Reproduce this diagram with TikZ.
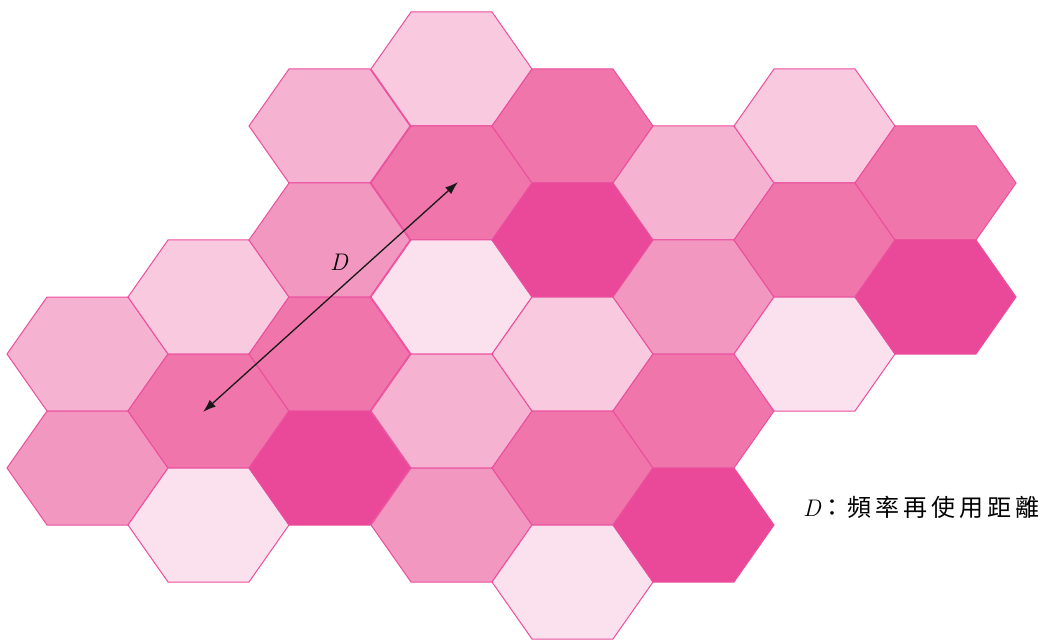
\documentclass[tikz,border=0pt]{standalone}
\usepackage{fontspec}
\newfontfamily\cjk{Noto Sans CJK TC}
\usetikzlibrary{arrows.meta}
\definecolor{cA}{HTML}{FBE1ED}
\definecolor{cB}{HTML}{F8C9DF}
\definecolor{cC}{HTML}{F5B3D1}
\definecolor{cD}{HTML}{F298C0}
\definecolor{cE}{HTML}{EF75AA}
\definecolor{cF}{HTML}{EA4898}
\definecolor{edge}{HTML}{EB4F9E}
\tikzset{
  hexa/.pic={\path[pic actions] (-80.5,0) -- (-40.5,-57) -- (40.5,-57) -- (80.5,0) -- (40.5,57) -- (-40.5,57) -- cycle;},
  cell/.style={draw=edge, line width=1pt, line join=miter},
  dist/.style={{Latex[length=13pt,width=9pt]}-{Latex[length=13pt,width=9pt]}, line width=1.3pt, black!90},
  lab/.style={inner sep=0pt, font=\fontsize{24}{24}\selectfont}
}
\begin{document}
\begin{tikzpicture}[x=1pt,y=-1pt]
\useasboundingbox (0,0) rectangle (1049,644);
% column k=-3
\pic[cell,fill=cC] at (87.5,354) {hexa};
\pic[cell,fill=cD] at (87.5,468) {hexa};
% column k=-2
\pic[cell,fill=cB] at (208.5,297) {hexa};
\pic[cell,fill=cE] at (208.5,411) {hexa};
\pic[cell,fill=cA] at (208.5,525) {hexa};
% column k=-1
\pic[cell,fill=cC] at (329.5,126) {hexa};
\pic[cell,fill=cD] at (329.5,240) {hexa};
\pic[cell,fill=cE] at (329.5,354) {hexa};
\pic[cell,fill=cF] at (329.5,468) {hexa};
% column k=0
\pic[cell,fill=cB] at (451.5,69) {hexa};
\pic[cell,fill=cE] at (451.5,183) {hexa};
\pic[cell,fill=cA] at (451.5,297) {hexa};
\pic[cell,fill=cC] at (451.5,411) {hexa};
\pic[cell,fill=cD] at (451.5,525) {hexa};
% column k=1
\pic[cell,fill=cE] at (572.5,126) {hexa};
\pic[cell,fill=cF] at (572.5,240) {hexa};
\pic[cell,fill=cB] at (572.5,354) {hexa};
\pic[cell,fill=cE] at (572.5,468) {hexa};
\pic[cell,fill=cA] at (572.5,582) {hexa};
% column k=2
\pic[cell,fill=cC] at (693.5,183) {hexa};
\pic[cell,fill=cD] at (693.5,297) {hexa};
\pic[cell,fill=cE] at (693.5,411) {hexa};
\pic[cell,fill=cF] at (693.5,525) {hexa};
% column k=3
\pic[cell,fill=cB] at (814.5,126) {hexa};
\pic[cell,fill=cE] at (814.5,240) {hexa};
\pic[cell,fill=cA] at (814.5,354) {hexa};
% column k=4
\pic[cell,fill=cE] at (935.5,183) {hexa};
\pic[cell,fill=cF] at (935.5,297) {hexa};
% reuse distance
\coordinate (p1) at (458,182);
\coordinate (p2) at (203,412);
\draw[dist] (p1) -- (p2);
\node[lab] (dlab) at (339,262) {\itshape D};
\node[lab, anchor=base west] (legend) at (803,516) {\itshape D\upshape\cjk\fontsize{24}{24}\selectfont ：\kern3pt 頻\kern4pt 率\kern4pt 再\kern4pt 使\kern4pt 用\kern4pt 距\kern4pt 離};
\end{tikzpicture}
\end{document}
